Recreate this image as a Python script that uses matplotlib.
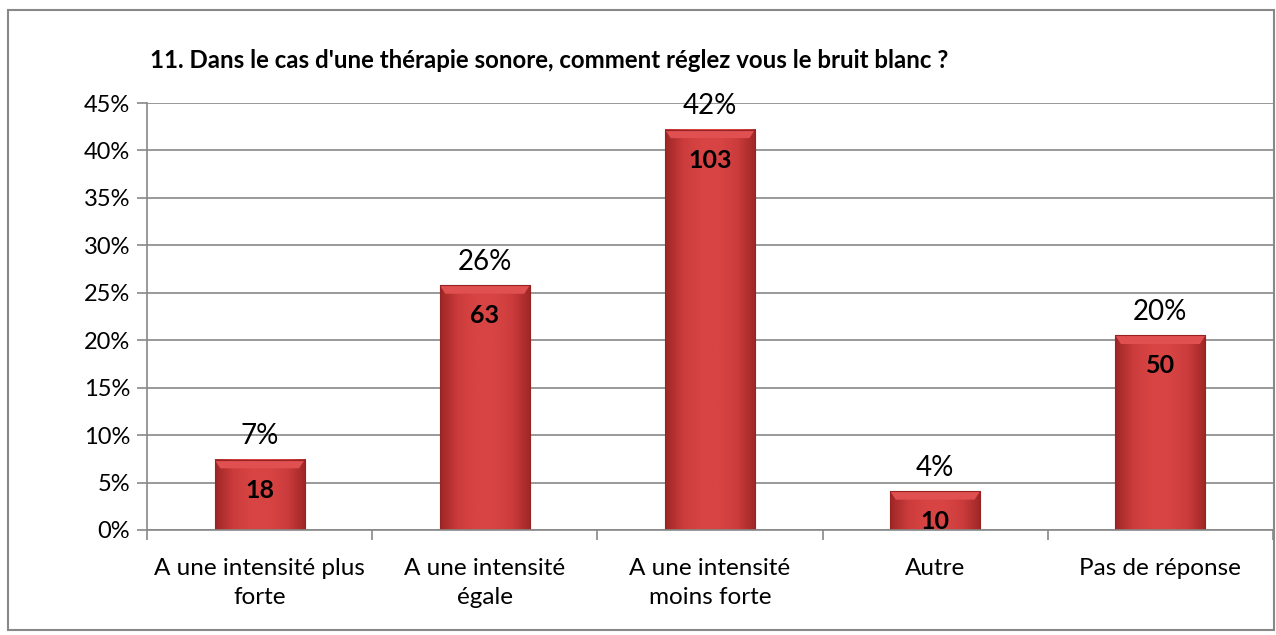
import matplotlib.pyplot as plt
import numpy as np
from matplotlib.colors import LinearSegmentedColormap
from matplotlib.patches import Rectangle, Polygon

plt.rcParams['font.family'] = ['Lato', 'DejaVu Sans']

# ── Data ──────────────────────────────────────────────────────────────────────
categories = ["A une intensité plus\nforte", "A une intensité\négale",
              "A une intensité\nmoins forte", "Autre", "Pas de réponse"]
shares = [7.4, 25.8, 42.2, 4.1, 20.5]      # % of respondents
counts = [18, 63, 103, 10, 50]
pct_labels = ["7%", "26%", "42%", "4%", "20%"]
title = "11. Dans le cas d'une thérapie sonore, comment réglez vous le bruit blanc ?"

# ── Figure ────────────────────────────────────────────────────────────────────
fig = plt.figure(figsize=(12.76, 6.35), dpi=100)
ax = fig.add_axes([147 / 1276, 105 / 635, 1126 / 1276, 427 / 635])

x = np.arange(len(categories))
bars = ax.bar(x, shares, width=0.4, color="#c83a3a", zorder=2)

# gradient fill + bevel look for each bar
cmap = LinearSegmentedColormap.from_list(
    "red", ["#9e2626", "#cc3c3c", "#d84444", "#d84444", "#cc3c3c", "#9e2626"])
grad = np.linspace(0, 1, 200).reshape(1, -1)
for b in bars:
    bx, by, bw, bh = b.get_x(), b.get_y(), b.get_width(), b.get_height()
    b.set_facecolor("none")
    ax.imshow(grad, extent=[bx, bx + bw, by, by + bh], aspect="auto",
              cmap=cmap, zorder=2.1)
    # lighter top bevel
    bev_y, bev_x = 0.9, 0.025
    ax.add_patch(Polygon([(bx, by + bh), (bx + bw, by + bh),
                          (bx + bw - bev_x, by + bh - bev_y), (bx + bev_x, by + bh - bev_y)],
                         closed=True, color="#e05050", lw=0, zorder=2.2))
    ax.add_patch(Rectangle((bx, by), bw, bh, fill=False, ec="#962222", lw=0.8, zorder=2.3))

for xi, s, c, p in zip(x, shares, counts, pct_labels):
    ax.text(xi, s + 1.1, p, ha="center", va="bottom", fontsize=20, zorder=3)
    ax.text(xi, s - 2.0, str(c), ha="center", va="top", fontsize=18,
            fontweight="bold", zorder=3)

ax.set_xlim(-0.5, len(categories) - 0.5)
ax.set_ylim(0, 45)
ax.set_yticks(np.arange(0, 46, 5))
ax.set_yticklabels([f"{v}%" for v in range(0, 46, 5)], fontsize=17)
ax.set_xticks(x)
ax.set_xticklabels(categories, fontsize=17.5, linespacing=1.5)
ax.set_xticks(np.arange(-0.5, len(categories)), minor=True)
ax.tick_params(axis="x", which="major", length=0, pad=20)
ax.tick_params(axis="x", which="minor", length=7, color="#888888", width=1.2)
ax.tick_params(axis="y", length=7, color="#888888", width=1.2, pad=5)
ax.grid(axis="y", color="#888888", lw=1.2, zorder=0)
for side in ["top", "right"]:
    ax.spines[side].set_visible(False)
for side in ["left", "bottom"]:
    ax.spines[side].set_color("#888888")
    ax.spines[side].set_linewidth(1.2)

fig.text(150 / 1276, 1 - 61 / 635, title, fontsize=17.3, fontweight="bold", va="center", ha="left")

# outer chart frame
fig.add_artist(Rectangle((8 / 1276, 5 / 635), 1266 / 1276, 620 / 635,
                         transform=fig.transFigure, fill=False, ec="#888888", lw=1.5))

fig.savefig("out.png", dpi=100)
